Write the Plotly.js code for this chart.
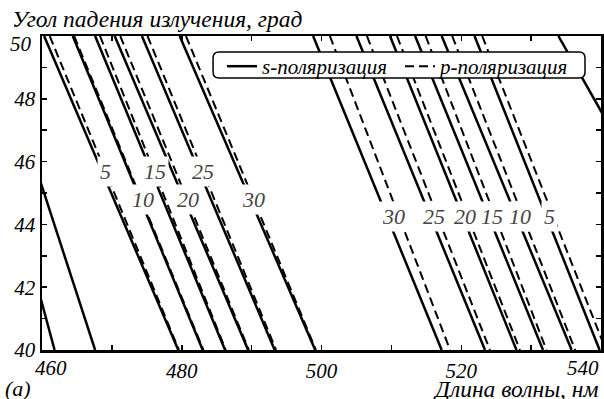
<!DOCTYPE html>
<html>
<head>
<meta charset="utf-8">
<script src="https://cdn.plot.ly/plotly-3.0.1.min.js"></script>
<style>
  html, body { margin: 0; padding: 0; background: #fff; }
  #chart { width: 604px; height: 399px; }
</style>
</head>
<body>
<div id="chart"></div>
<script>
const thickness = [5, 10, 15, 20, 25, 30]
const angles = [50, 40]

// wavelength, nm, where each line crosses 50 and 40 degrees
const leftS50 = [460.3, 464.4, 467.6, 470.4, 474.3, 479.7]
const leftS40 = [479.5, 483.0, 486.2, 489.5, 493.3, 499.1]
const leftP50 = [461.1, 464.6, 468.3, 471.2, 475.1, 480.6]
const leftP40 = [479.6, 483.1, 486.3, 489.6, 493.5, 499.2]

const rightS50 = [521.9, 517.2, 513.4, 509.8, 505.0, 498.8]
const rightS40 = [539.8, 535.8, 531.7, 527.9, 523.4, 517.2]
const rightP50 = [523.0, 518.7, 514.9, 510.8, 506.5, 501.2]
const rightP40 = [540.7, 536.3, 532.2, 528.4, 524.1, 518.4]

// neighbouring orders, only partly inside the frame
const otherS50 = [449.7, 453.0, 533.9]
const otherS40 = [461.8, 467.6, 559.4]

const xTicks = [460, 470, 480, 490, 500, 510, 520, 530, 540]
const xTickLabels = ['', '', '480', '', '500', '', '520', '', '']
const yTicks = [40, 41, 42, 43, 44, 45, 46, 47, 48, 49, 50]
const yTickLabels = ['40', '', '42', '', '44', '', '46', '', '48', '', '']

const FAMILY = 'Liberation Serif'
const solid = { color: 'black', width: 2.5 }
const dashed = { color: 'black', width: 2, dash: '9px,5px' }

let data = []

const addLine = (x50, x40, line, name, show) => {
  data.push({
    x: [x50, x40],
    y: angles,
    type: 'scatter',
    mode: 'lines',
    line: line,
    name: name,
    showlegend: show,
    hoverinfo: 'skip',
  })
}

thickness.forEach((t, i) => {
  addLine(leftS50[i], leftS40[i], solid, 's-поляризация', i === 0)
  addLine(leftP50[i], leftP40[i], dashed, 'p-поляризация', i === 0)
  addLine(rightS50[i], rightS40[i], solid, 's-поляризация', false)
  addLine(rightP50[i], rightP40[i], dashed, 'p-поляризация', false)
})
otherS50.forEach((x, i) => addLine(x, otherS40[i], solid, 's-поляризация', false))

const at = (x50, x40, a) => x50 + (x40 - x50) * (50 - a) / 10

const font = (size, color) => ({ family: FAMILY, size: size, color: color || 'black', style: 'italic' })

let annotations = []

thickness.forEach((t, i) => {
  let a = i % 2 ? 44.8 : 45.7
  let xl = (at(leftS50[i], leftS40[i], a) + at(leftP50[i], leftP40[i], a)) / 2 + 0.3
  annotations.push({ x: xl, y: a, text: String(t), showarrow: false, font: font(22, '#444'), bgcolor: 'white', borderpad: 2 })
  a = 44.25
  let xr = (at(rightS50[i], rightS40[i], a) + at(rightP50[i], rightP40[i], a)) / 2
  annotations.push({ x: xr, y: a, text: String(t), showarrow: false, font: font(22, '#444'), bgcolor: 'white', borderpad: 2 })
})

annotations.push(
  { xref: 'paper', yref: 'paper', x: -0.057, y: 1.054, xanchor: 'left', yanchor: 'middle', text: 'Угол падения излучения, град', showarrow: false, font: font(23.5) },
  { xref: 'paper', yref: 'paper', x: 1, y: -0.124, xanchor: 'right', yanchor: 'middle', text: 'Длина волны, нм', showarrow: false, font: font(23.5) },
  { xref: 'paper', yref: 'paper', x: -0.043, y: -0.124, xanchor: 'center', yanchor: 'middle', text: '(а)', showarrow: false, font: font(22) },
  { xref: 'x', yref: 'paper', x: 460, y: -0.057, xanchor: 'left', xshift: -9, yanchor: 'middle', text: '460', showarrow: false, font: font(21) },
  { xref: 'x', yref: 'paper', x: 540, y: -0.057, xanchor: 'right', yanchor: 'middle', text: '540', showarrow: false, font: font(21) },
  { xref: 'paper', yref: 'y', x: 0, y: 49.75, xanchor: 'right', xshift: -8, yanchor: 'middle', text: '50', showarrow: false, font: font(21) },
)

// rounded white box behind the legend
const bx0 = 0.306, bx1 = 0.9714, by0 = 0.866, by1 = 0.949, rx = 0.0107, ry = 0.0191
const legendBox = 'M' + (bx0 + rx) + ',' + by1 + ' L' + (bx1 - rx) + ',' + by1 +
  ' Q' + bx1 + ',' + by1 + ' ' + bx1 + ',' + (by1 - ry) + ' L' + bx1 + ',' + (by0 + ry) +
  ' Q' + bx1 + ',' + by0 + ' ' + (bx1 - rx) + ',' + by0 + ' L' + (bx0 + rx) + ',' + by0 +
  ' Q' + bx0 + ',' + by0 + ' ' + bx0 + ',' + (by0 + ry) + ' L' + bx0 + ',' + (by1 - ry) +
  ' Q' + bx0 + ',' + by1 + ' ' + (bx0 + rx) + ',' + by1 + ' Z'

const axisBase = () => ({
  showline: true,
  linecolor: 'black',
  linewidth: 2.5,
  mirror: 'ticks',
  ticks: 'inside',
  ticklen: 5,
  tickwidth: 1.5,
  tickcolor: 'black',
  tickmode: 'array',
  showgrid: false,
  zeroline: false,
  tickfont: font(21),
})

let layout = {
  width: 604,
  height: 399,
  margin: { l: 42, r: 3, t: 36, b: 49 },
  font: font(21),
  paper_bgcolor: 'white',
  plot_bgcolor: 'white',
  showlegend: true,
  xaxis: Object.assign(axisBase(), { range: [460, 540], tickvals: xTicks, ticktext: xTickLabels }),
  yaxis: Object.assign(axisBase(), { range: [40, 50], tickvals: yTicks, ticktext: yTickLabels }),
  legend: {
    orientation: 'h',
    traceorder: 'normal',
    x: 0.322,
    y: 0.968,
    xanchor: 'left',
    yanchor: 'top',
    bgcolor: 'rgba(0,0,0,0)',
    borderwidth: 0,
    font: font(21),
    itemwidth: 30,
    entrywidth: 133,
    entrywidthmode: 'pixels',
  },
  shapes: [{
    type: 'path',
    xref: 'paper',
    yref: 'paper',
    path: legendBox,
    fillcolor: 'white',
    line: { color: 'black', width: 1.5 },
    layer: 'above',
  }],
  annotations: annotations,
}

Plotly.newPlot('chart', data, layout, { staticPlot: true })
</script>
</body>
</html>
